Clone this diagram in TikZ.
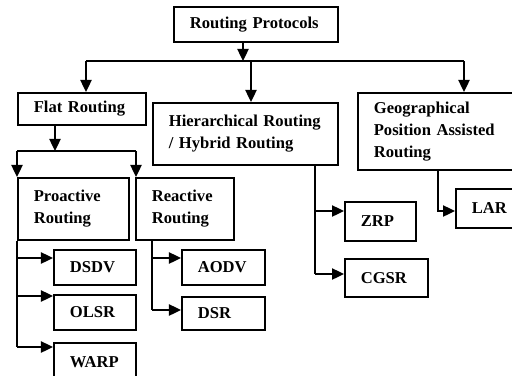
\documentclass[tikz,border=0pt]{standalone}
\usepackage{fontspec}
\setmainfont{Liberation Serif}
\usetikzlibrary{arrows.meta}
\tikzset{
  box/.style={draw, line width=1.2pt, anchor=north west, inner xsep=0.4cm, inner ysep=0pt, align=left, font=\bfseries\fontsize{11.8}{15.6}\selectfont},
  arr/.style={line width=1.2pt, -{Triangle[length=0.3cm,width=0.28cm]}},
  ln/.style={line width=1.2pt}
}
\begin{document}
\begin{tikzpicture}[x=0.025cm,y=-0.025cm]
\clip (0,0) rectangle (512,375);
\node[box, text width=3.3cm, minimum height=0.875cm] (proto) at (173,6) {Routing Protocols};
\node[box, text width=2.4cm, minimum height=0.8cm] (flat) at (17,92) {Flat Routing};
\node[box, text width=3.825cm, minimum height=1.55cm] (hier) at (152,102) {Hierarchical Routing\\/ Hybrid Routing};
\node[box, text width=3.525cm, minimum height=1.925cm] (geo) at (357,92) {Geographical\\Position Assisted\\Routing};
\node[box, text width=1.975cm, minimum height=1.55cm] (pro) at (17,177) {Proactive\\Routing};
\node[box, text width=1.65cm, minimum height=1.55cm] (rea) at (135,177) {Reactive\\Routing};
\node[box, text width=1.25cm, minimum height=0.875cm] (dsdv) at (53,249) {DSDV};
\node[box, text width=1.25cm, minimum height=0.875cm] (olsr) at (53,294) {OLSR};
\node[box, text width=1.25cm, minimum height=0.95cm] (warp) at (53,342) {WARP};
\node[box, text width=1.275cm, minimum height=0.875cm] (aodv) at (181,249) {AODV};
\node[box, text width=1.275cm, minimum height=0.825cm] (dsr) at (181,296) {DSR};
\node[box, text width=0.975cm, minimum height=0.975cm] (zrp) at (344,201) {ZRP};
\node[box, text width=1.275cm, minimum height=0.95cm] (cgsr) at (344,258) {CGSR};
\node[box, text width=1.075cm, minimum height=0.975cm] (lar) at (455,188) {LAR};
\coordinate (j0) at (243,61);
\coordinate (jl) at (86,61);
\coordinate (jm) at (251,61);
\coordinate (jr) at (464,61);
\draw[arr] (proto.south -| j0) -- (j0);
\draw[ln] (jl) -- (jr);
\draw[arr] (jl) -- (flat.north -| jl);
\draw[arr] (jm) -- (hier.north -| jm);
\draw[arr] (jr) -- (geo.north -| jr);
\coordinate (f0) at (55,151);
\coordinate (fl) at (17,151);
\coordinate (fr) at (136,151);
\draw[arr] (flat.south -| f0) -- (f0);
\draw[ln] (fl) -- (fr);
\draw[arr] (fl) -- (pro.north -| fl);
\draw[arr] (fr) -- (rea.north -| fr);
\coordinate (p1) at (17,258);
\coordinate (p2) at (17,296);
\coordinate (p3) at (17,347);
\draw[ln] (pro.south west) -- (p3);
\draw[arr] (p1) -- (dsdv.west |- p1);
\draw[arr] (p2) -- (olsr.west |- p2);
\draw[arr] (p3) -- (warp.west |- p3);
\coordinate (r1) at (152,258);
\coordinate (r2) at (152,310);
\draw[ln] (rea.south -| r2) -- (r2);
\draw[arr] (r1) -- (aodv.west |- r1);
\draw[arr] (r2) -- (dsr.west |- r2);
\coordinate (h1) at (315,211);
\coordinate (h2) at (315,274);
\draw[ln] (hier.south -| h2) -- (h2);
\draw[arr] (h1) -- (zrp.west |- h1);
\draw[arr] (h2) -- (cgsr.west |- h2);
\coordinate (g1) at (438,211);
\draw[arr] (geo.south -| g1) -- (g1) -- (lar.west |- g1);
\end{tikzpicture}
\end{document}
